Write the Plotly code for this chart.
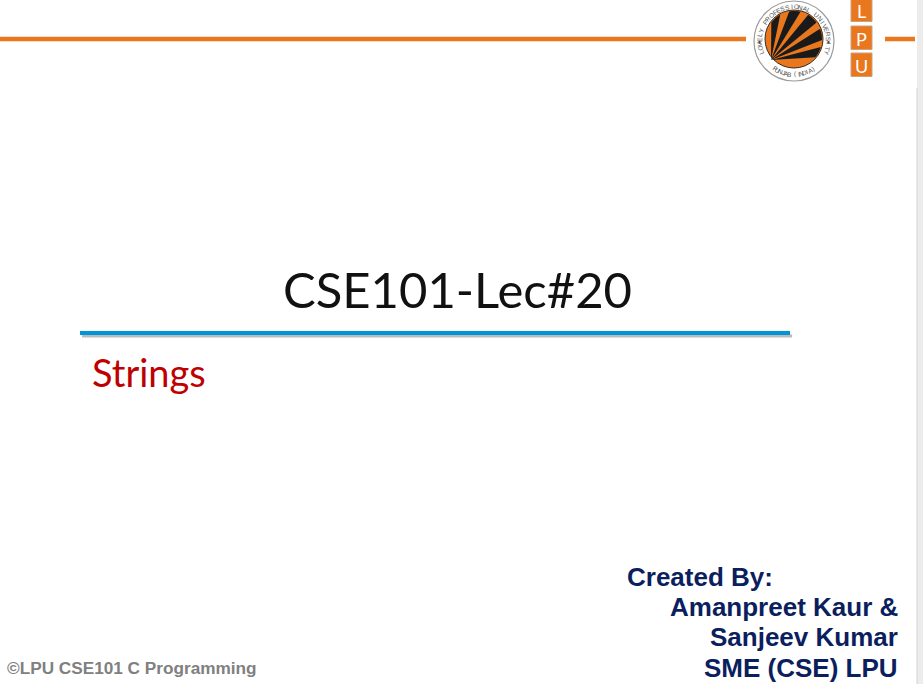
import numpy as np
import plotly.graph_objects as go

# slide content
title_text = "CSE101-Lec#20"
subtitle_text = "Strings"
credit_lines = ["Created By:", "Amanpreet Kaur &", "Sanjeev Kumar", "SME (CSE) LPU"]
footer_text = "©LPU CSE101 C Programming"
logo_letters = ["L", "P", "U"]
ring_top_text = "LOVELY PROFESSIONAL UNIVERSITY"
ring_bottom_text = "PUNJAB (INDIA)"
ray_angles = [84, 64, 45, 27, 9]

W, H = 923, 684
ORANGE = "#E8771E"
NAVY = "#0B1F5E"

fig = go.Figure()
shapes = []
annotations = []

# right grey edge
shapes.append(dict(type="rect", x0=917, x1=W, y0=0, y1=H, fillcolor="#ECECEC", line_width=0, layer="below"))
shapes.append(dict(type="line", x0=917, x1=917, y0=88, y1=H, line=dict(color="#D2D2D2", width=1)))

# orange header lines
shapes.append(dict(type="line", x0=0, x1=746, y0=39, y1=39, line=dict(color=ORANGE, width=4.5)))
shapes.append(dict(type="line", x0=885, x1=915, y0=39, y1=39, line=dict(color=ORANGE, width=4.5)))

# logo circle
cx, cy, r_out, r_in = 794, 41, 40, 29
shapes.append(dict(type="circle", x0=cx - r_out, x1=cx + r_out, y0=cy - r_out, y1=cy + r_out,
                   fillcolor="white", line=dict(color="#9A9A9A", width=1.2)))
shapes.append(dict(type="circle", x0=cx - r_in, x1=cx + r_in, y0=cy - 2 - r_in, y1=cy - 2 + r_in,
                   fillcolor=ORANGE, line=dict(color="#3A2A1A", width=1)))

# black rays from the lower-left of the disk
ox, oy = 771, 60
dcx, dcy = cx, cy - 2
for ang in ray_angles:
    pts = []
    for a in np.linspace(ang - 5.5, ang + 5.5, 6):
        t = np.radians(a)
        dx, dy = np.cos(t), -np.sin(t)
        fx, fy = ox - dcx, oy - dcy
        b = fx * dx + fy * dy
        c = fx * fx + fy * fy - (r_in - 1) ** 2
        s = -b + np.sqrt(b * b - c)
        pts.append((ox + s * dx, oy + s * dy))
    path = f"M {ox},{oy} " + " ".join(f"L {px:.2f},{py:.2f}" for px, py in pts) + " Z"
    shapes.append(dict(type="path", path=path, fillcolor="#1A1A1A", line_width=0))

# ring text
R_txt = 34.5
n = len(ring_top_text)
for i, ch in enumerate(ring_top_text):
    th = 200 - i * (220 / (n - 1))
    t = np.radians(th)
    annotations.append(dict(x=cx + R_txt * np.cos(t), y=cy - R_txt * np.sin(t), text=ch,
                            textangle=90 - th, showarrow=False,
                            font=dict(family="Liberation Sans", size=6.5, color="#555555")))
m = len(ring_bottom_text)
for i, ch in enumerate(ring_bottom_text):
    th = 236 + i * (68 / (m - 1))
    t = np.radians(th)
    annotations.append(dict(x=cx + (R_txt - 1) * np.cos(t), y=cy - (R_txt - 1) * np.sin(t), text=ch,
                            textangle=270 - th, showarrow=False,
                            font=dict(family="Liberation Sans", size=6.5, color="#555555")))
for th in (182, -2):
    t = np.radians(th)
    px, py = cx + R_txt * np.cos(t), cy - R_txt * np.sin(t)
    shapes.append(dict(type="circle", x0=px - 1.2, x1=px + 1.2, y0=py - 1.2, y1=py + 1.2,
                       fillcolor="#444444", line_width=0))

# LPU boxes
box_tops = [-2, 26, 53]
for letter, top in zip(logo_letters, box_tops):
    shapes.append(dict(type="rect", x0=851, x1=872, y0=top, y1=top + 23.5,
                       fillcolor=ORANGE, line=dict(color="#C9A27E", width=1)))
    annotations.append(dict(x=861.5, y=top + 12.5, text=letter, showarrow=False,
                            font=dict(family="Lato, sans-serif", size=18, color="white")))

# title and blue rule
annotations.append(dict(x=457, y=289, text=title_text, showarrow=False,
                        font=dict(family="Lato, sans-serif", size=49, color="#111111")))
shapes.append(dict(type="line", x0=82, x1=792, y0=336, y1=336, line=dict(color="#BBBBBB", width=3)))
shapes.append(dict(type="line", x0=80, x1=790, y0=333, y1=333, line=dict(color="#0096D6", width=4)))

annotations.append(dict(x=90, y=372, text=subtitle_text, showarrow=False, xanchor="left",
                        font=dict(family="Lato, sans-serif", size=38, color="#C00000")))

# credits
credit_pos = [(625, 577, "left"), (900, 607, "right"), (900, 637, "right"), (900, 668, "right")]
for line, (x, y, anc) in zip(credit_lines, credit_pos):
    annotations.append(dict(x=x, y=y, text=f"<b>{line}</b>", showarrow=False, xanchor=anc,
                            font=dict(family="Liberation Sans, Arial", size=26, color=NAVY)))

annotations.append(dict(x=5, y=668, text=f"<b>{footer_text}</b>", showarrow=False, xanchor="left",
                        font=dict(family="Liberation Sans, Arial", size=17.2, color="#808080")))

fig.update_layout(
    width=W, height=H,
    margin=dict(l=0, r=0, t=0, b=0),
    paper_bgcolor="white", plot_bgcolor="white",
    xaxis=dict(range=[0, W], visible=False, fixedrange=True),
    yaxis=dict(range=[H, 0], visible=False, fixedrange=True),
    shapes=shapes,
    annotations=annotations,
    showlegend=False,
)

fig.write_html("out.html", config={"displayModeBar": False},
               post_script="document.body.style.margin='0';document.body.style.overflow='hidden';")
